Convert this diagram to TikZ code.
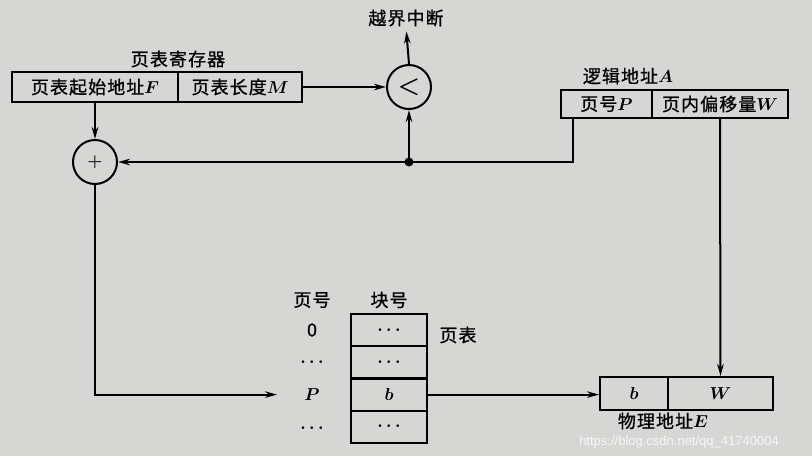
\documentclass[tikz,border=0pt]{standalone}
\usepackage{fontspec}
\setmainfont{Noto Sans CJK SC}[LetterSpace=6,FakeBold=0.8]
\newfontfamily\wmfont{Liberation Sans}
\usetikzlibrary{arrows.meta,calc}
\definecolor{bg}{RGB}{214,214,212}
\begin{document}
\begin{tikzpicture}[x=1pt,y=-1pt,
  every node/.style={font=\fontsize{18}{20}\selectfont\boldmath, inner sep=0pt},
  cell/.style={draw, line width=2pt, anchor=center},
  opcirc/.style={draw, circle, line width=2pt, minimum size=44pt, font=\fontsize{27}{29}\selectfont\boldmath},
  arr/.style={-{Stealth[length=12pt,width=6.5pt]}, line width=2pt},
  wire/.style={line width=2pt}]
\fill[bg] (0,0) rectangle (812,456);
\useasboundingbox (0,0) rectangle (812,456);
% page table register
\node[cell, minimum width=166pt, minimum height=30pt] (regF) at (95,87) {页表起始地址$F$};
\node[cell, minimum width=124pt, minimum height=30pt] (regM) at (240,87) {页表长度$M$};
\node (regLbl) at (178,59) {页表寄存器};
% comparator and adder
\node[opcirc] (cmp) at (409,87) {$<$};
\node[opcirc, font=\fontsize{17}{19}\selectfont\boldmath] (add) at (95,162) {$+$};
\node (intr) at (406,18) {越界中断};
\node[circle, fill, minimum size=9pt] (dot) at (409,162) {};
% logical address
\node (laLbl) at (628,76) {逻辑地址$A$};
\node[cell, minimum width=91pt, minimum height=28pt] (laP) at (606.5,104) {页号$P$};
\node[cell, minimum width=136pt, minimum height=28pt] (laW) at (720,104) {页内偏移量$W$};
% physical address
\node[cell, minimum width=68pt, minimum height=33pt] (phb) at (634,393.5) {$b$};
\node[cell, minimum width=105pt, minimum height=33pt] (phW) at (720.5,393.5) {$W$};
\node (phLbl) at (663,421) {物理地址$E$};
% page table
\node (hPage) at (312,300) {页号};
\node (hBlock) at (389,300) {块号};
\node[cell, minimum width=76pt, minimum height=32.25pt] (r0) at (389,330.1) {$\cdots$};
\node[cell, minimum width=76pt, minimum height=32.25pt] (r1) at (389,362.4) {$\cdots$};
\node[cell, minimum width=76pt, minimum height=32.25pt] (r2) at (389,394.6) {$b$};
\node[cell, minimum width=76pt, minimum height=32.25pt] (r3) at (389,426.9) {$\cdots$};
\node (l0) at (312,330) {0};
\node (l1) at (312,362) {$\cdots$};
\node (l2) at (312,395) {$P$};
\node (l3) at (312,428) {$\cdots$};
\node (ptLbl) at (458,335) {页表};
\coordinate (pin) at (277,394.6);
\coordinate (pTap) at ($(laP.south west)+(13,0)$);
% connectors
\draw[arr] (regM.east) -- (cmp.west);
\draw[arr, shorten >=5pt] (cmp.north) -- (intr.south);
\draw[arr] (regF.south) -- (add.north);
\draw[wire] (pTap) |- (dot.center);
\draw[arr] (dot.center) -- (add.east);
\draw[arr] (dot.center) -- (cmp.south);
\draw[arr] (add.south) |- (pin);
\draw[arr] (r2.east) -- (r2.east -| phb.west);
\draw[arr] (laW.south) -- (phW.north);
% watermark
\node[font=\wmfont\fontsize{13}{15}\selectfont, text=white, opacity=0.8] (wm) at (679,442) {https://blog.csdn.net/qq\_41740004};
\end{tikzpicture}
\end{document}
